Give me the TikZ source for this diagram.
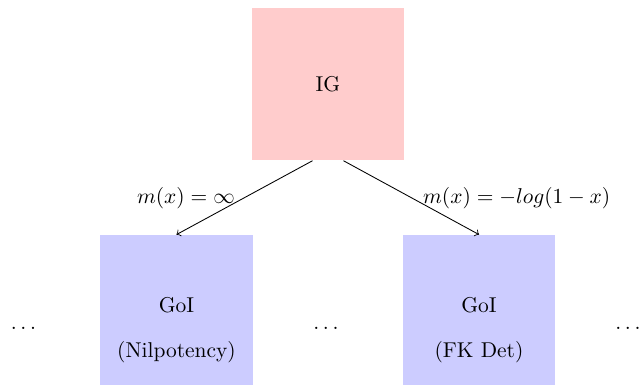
\documentclass[tikz,border=0pt]{standalone}
\usetikzlibrary{calc}
\begin{document}
\begin{tikzpicture}[x=0.4663pt,y=-0.4663pt,
  igbox/.style={fill=red!20, minimum width=2.5cm, minimum height=2.5cm, inner sep=0pt},
  goibox/.style={fill=blue!20, minimum width=2.5cm, minimum height=88.6pt, inner sep=0pt, align=center},
  link/.style={->, thin}]
  \useasboundingbox (0,0) rectangle (641,384);
  \node[igbox] (IG) at (328,84) {IG};
  \node[goibox] (nil) at (176.5,330) {GoI\\[9pt](Nilpotency)};
  \node[goibox] (fk) at (479,330) {GoI\\[9pt](FK Det)};
  \node (d1) at (23.5,328) {$\ldots$};
  \node (d2) at (326,328) {$\ldots$};
  \node (d3) at (628,328) {$\ldots$};
  \draw[link] ([xshift=-7.2pt]IG.south) -- node[left, xshift=-1pt] {$m(x) = \infty$} (nil.north);
  \draw[link] ([xshift=7.2pt]IG.south) -- node[right, xshift=2pt] {$m(x) = -log(1-x)$} (fk.north);
\end{tikzpicture}
\end{document}
